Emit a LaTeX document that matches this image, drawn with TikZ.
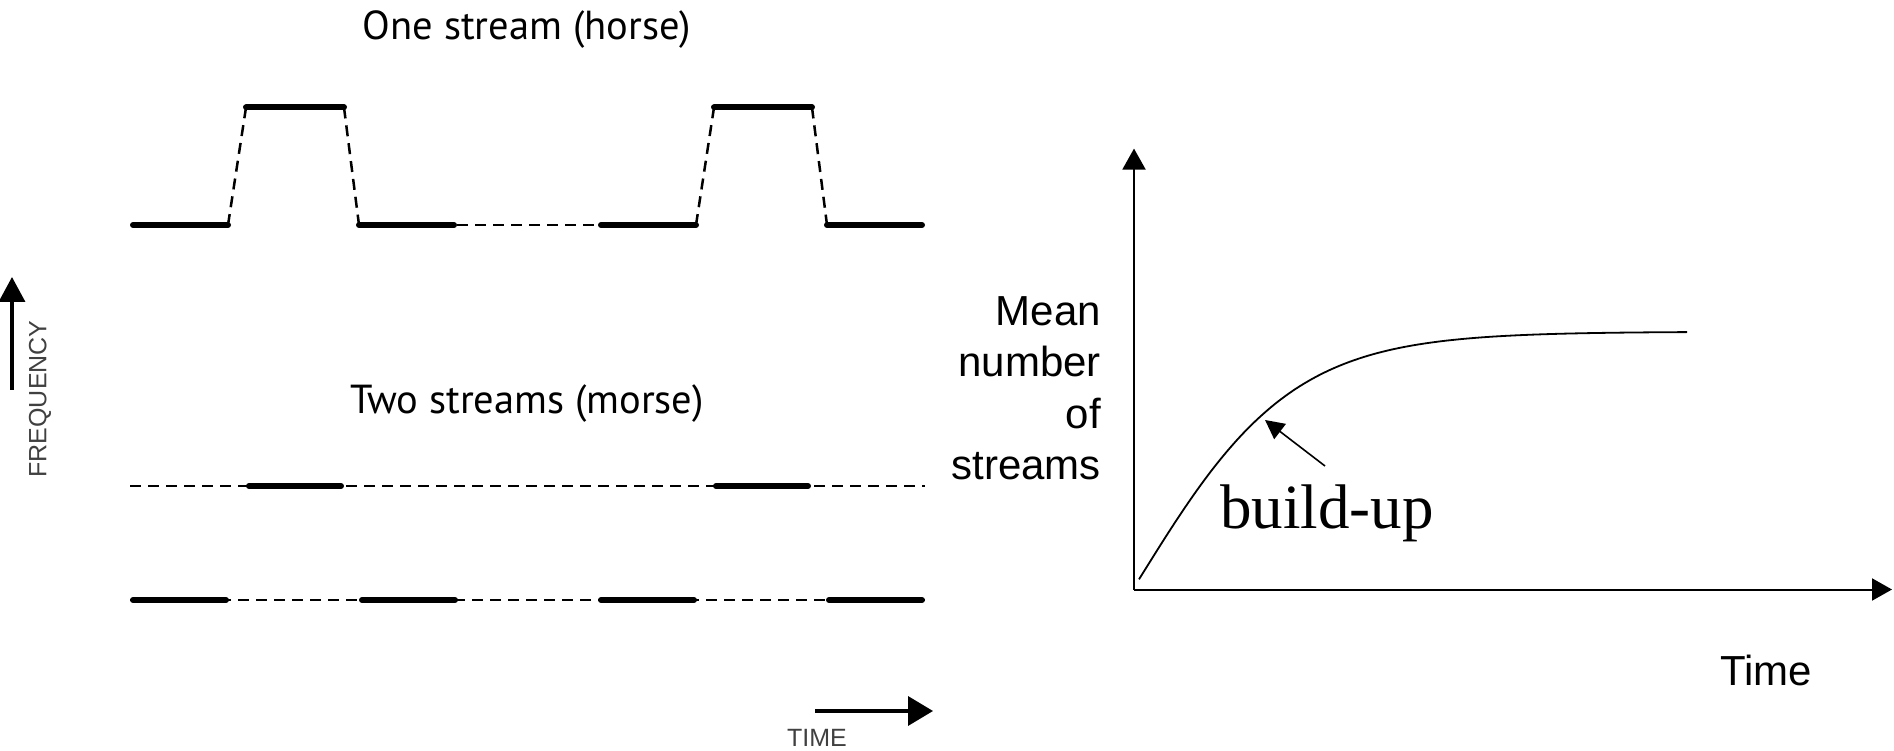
\documentclass[tikz,border=0pt]{standalone}
\usepackage{fontspec}
\usepackage{tikz}
\usetikzlibrary{arrows.meta}
\newfontfamily\labelfont{PT Sans}
\newfontfamily\axisfont{Liberation Sans}
\newfontfamily\notefont{Liberation Serif}

\begin{document}
\begin{tikzpicture}[x=1pt,y=1pt,
  thickseg/.style={line width=6pt,line cap=round},
  dashseg/.style={line width=2.5pt,dash pattern=on 11pt off 7pt},
  title/.style={font=\labelfont\fontsize{40.5}{46}\selectfont,anchor=base},
  axislabel/.style={font=\axisfont\fontsize{42}{51.5}\selectfont}]
  \useasboundingbox (0,0) rectangle (1894,750);

  % one stream (horse)
  \node[title] (horse) at (527,710) {One stream (horse)};
  \foreach \a in {130,598} {
    \draw[thickseg] (\a+3,525) -- (\a+98,525);
    \draw[thickseg] (\a+116,642.5) -- (\a+214,642.5);
    \draw[thickseg] (\a+229,525) -- (\a+324,525);
    \draw[dashseg] (\a+98,525) -- (\a+116,642.5);
    \draw[dashseg] (\a+214,642.5) -- (\a+229,525);
  }
  \draw[dashseg] (457,525) -- (598,525);

  % two streams (morse)
  \node[title] (morse) at (527,336) {Two streams (morse)};
  \draw[dashseg] (130,264) -- (925,264);
  \draw[dashseg] (130,150) -- (925,150);
  \foreach \a in {246,713}
    \draw[thickseg] (\a+3,264) -- (\a+95,264);
  \foreach \a in {130,359,598,826}
    \draw[thickseg] (\a+3,150) -- (\a+96,150);

  % frequency / time
  \coordinate (f0) at (12,360);
  \coordinate (f1) at (12,473);
  \draw[line width=3.5pt,-{Triangle[length=25pt,width=26pt]}] (f0) -- (f1);
  \node[font=\axisfont\fontsize{25}{30}\selectfont,text=black!75,rotate=90] (freq) at (40,351) {FREQUENCY};
  \coordinate (t0) at (815,39);
  \coordinate (t1) at (933,39);
  \draw[line width=3.5pt,-{Triangle[length=25pt,width=29pt]}] (t0) -- (t1);
  \node[font=\axisfont\fontsize{25}{30}\selectfont,text=black!75] (time) at (817,12) {TIME};

  % build-up plot
  \coordinate (O) at (1134,160.5);
  \coordinate (ymax) at (1134,601.4);
  \coordinate (xmax) at (1892,160.5);
  \draw[line width=2pt,-{Triangle[length=21pt,width=23pt]}] (O) -- (ymax);
  \draw[line width=2pt,-{Triangle[length=20pt,width=22pt]}] (O) -- (xmax);
  \draw[line width=1.8pt] plot[domain=1139:1687,samples=90,smooth]
    (\x,{170.7+247.6*tanh(0.0065*(\x-1139))});
  \node[axislabel,align=right,anchor=north east,inner sep=0pt] (mean) at (1101,454)
    {Mean\\number\\of\\streams};
  \node[axislabel,anchor=base] (tlabel) at (1766,65) {Time};
  \node[font=\notefont\fontsize{63}{72}\selectfont,anchor=base] (bu) at (1327,222) {build-up};
  \coordinate (b0) at (1325,284);
  \coordinate (b1) at (1265,330);
  \draw[line width=1.6pt,-{Triangle[length=19pt,width=19pt]}] (b0) -- (b1);
\end{tikzpicture}
\end{document}
